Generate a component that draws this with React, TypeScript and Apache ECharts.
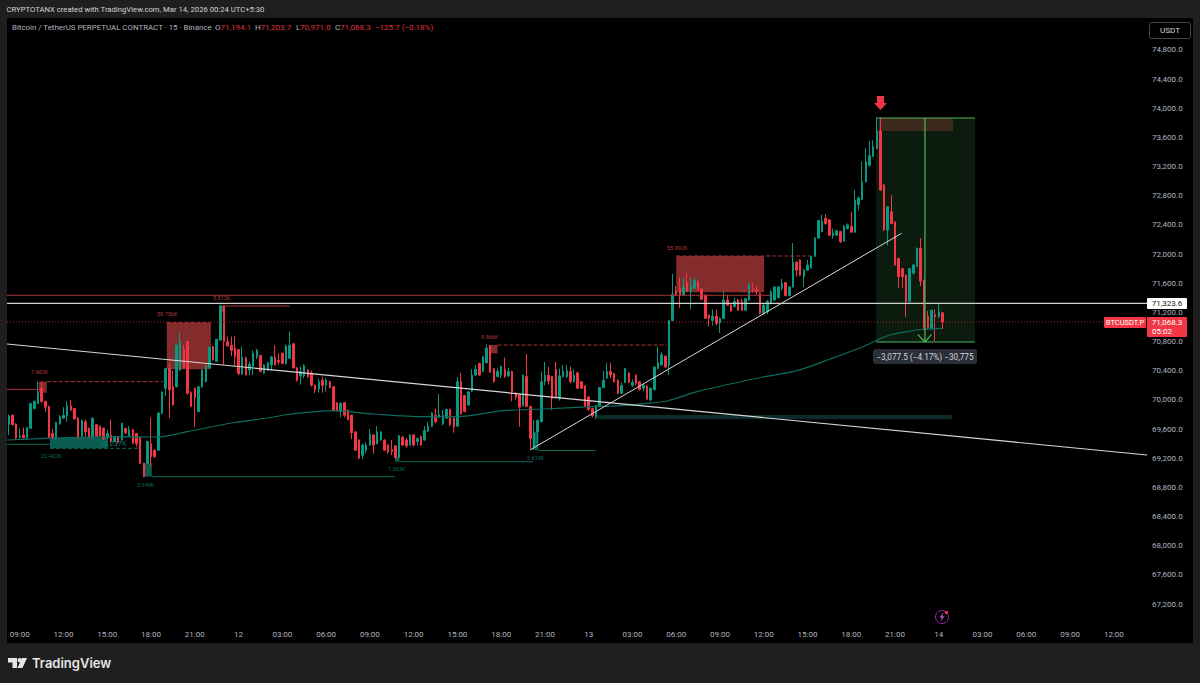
import React, { useEffect, useRef } from "react";
import * as echarts from "echarts";

const tickLabels = ["09:00","12:00","15:00","18:00","21:00","12","03:00","06:00","09:00","12:00","15:00","18:00","21:00","13","03:00","06:00","09:00","12:00","15:00","18:00","21:00","14","03:00","06:00","09:00","12:00"];
const slotCount = 313;
const firstTick = 3;
const ticksEvery = 12;

// [open, close, low, high]
const ohlc: number[][] = [
[69660,69780,69520,69800],[69790,69660,69650,69800],[69670,69480,69460,69680],[69490,69510,69470,69610],[69520,69480,69470,69620],
[69480,69620,69470,69630],[69610,69950,69600,69960],[69880,69980,69880,69990],[69950,70100,69950,70250],[70160,69980,69960,70250],
[69980,69900,69840,69990],[69910,69490,69480,69920],[69540,69480,69470,69600],[69480,69690,69470,69700],[69670,69770,69660,69790],
[69750,69790,69740,69900],[69780,69920,69700,69980],[69920,69860,69850,70000],[69880,69740,69730,69890],[69750,69480,69460,69760],
[69500,69720,69490,69730],[69700,69560,69480,69730],[69610,69480,69470,69620],[69480,69750,69470,69760],[69660,69500,69490,69670],
[69640,69500,69490,69650],[69610,69470,69450,69620],[69480,69540,69470,69590],[69520,69430,69400,69730],[69430,69490,69420,69500],
[69490,69420,69400,69500],[69450,69680,69440,69690],[69610,69550,69530,69620],[69510,69590,69500,69640],[69590,69410,69390,69600],
[69540,69400,69360,69550],[69480,69130,69120,69490],[69130,68950,68940,69140],[69130,69430,69120,69440],[69400,69220,69080,69760],
[69310,69220,69210,69320],[69310,69820,69300,69830],[69820,70110,69800,70120],[70160,70430,70050,70440],[70430,70140,69750,70510],
[70180,69930,69920,70400],[70180,70750,70170,70760],[70410,70800,70400,70930],[70690,70440,70430,70760],[70800,70090,70070,70810],
[70100,69910,69900,70120],[70160,70030,69630,70170],[69840,70180,69830,70190],[70180,70410,70170,70420],[70250,70460,70240,70480],
[70440,70720,70430,70730],[70730,70550,70540,70740],[70530,70830,70520,70840],[70820,71290,70810,71300],[71290,70800,70480,71300],
[70800,70740,70730,70870],[70750,70680,70600,70870],[70710,70590,70460,70870],[70690,70360,70340,70700],[70360,70590,70340,70730],
[70580,70340,70340,70590],[70410,70490,70340,70530],[70460,70640,70340,70680],[70590,70680,70560,70700],[70610,70390,70380,70620],
[70370,70480,70360,70490],[70410,70510,70400,70520],[70480,70590,70400,70600],[70580,70480,70470,70750],[70540,70520,70480,70640],
[70640,70500,70490,70650],[70500,70740,70480,70760],[70570,70750,70560,70940],[70770,70440,70430,70780],[70440,70270,70250,70450],
[70330,70390,70210,70460],[70330,70470,70300,70490],[70410,70320,70300,70420],[70370,70200,70180,70400],[70200,70140,70090,70210],
[70150,70250,70100,70290],[70270,70200,70100,70320],[70200,70270,70110,70300],[70250,70170,70160,70260],[70180,69850,69850,70190],
[69960,69850,69840,69970],[69840,69950,69760,69970],[69960,69790,69760,69970],[69860,69730,69720,69870],[69790,69550,69460,69800],
[69560,69310,69300,69570],[69450,69200,69190,69460],[69240,69380,69190,69400],[69310,69380,69270,69420],[69380,69530,69370,69600],
[69520,69380,69260,69530],[69400,69560,69390,69640],[69450,69560,69440,69570],[69450,69310,69300,69460],[69380,69290,69260,69390],
[69320,69290,69240,69450],[69370,69210,69190,69380],[69210,69510,69200,69520],[69490,69380,69370,69500],[69450,69370,69340,69470],
[69380,69520,69370,69530],[69520,69380,69360,69530],[69430,69470,69380,69490],[69500,69380,69370,69510],[69450,69580,69440,69640],
[69570,69640,69560,69700],[69640,69820,69630,69830],[69790,69700,69680,69880],[69760,69800,69750,70080],[69670,69790,69650,69860],
[69750,69870,69740,69880],[69870,69660,69640,69880],[69750,69630,69550,69760],[69640,70250,69630,70310],[70250,69810,69800,70370],
[70060,69840,69830,70070],[69930,70110,69920,70120],[70120,70340,70110,70420],[70340,70420,70330,70480],[70500,70340,70330,70510],
[70390,70590,70380,70600],[70510,70710,70500,70760],[70740,70380,70370,70750],[70430,70250,70230,70440],[70320,70390,70310,70430],
[70340,70460,70300,70470],[70420,70320,70300,70580],[70330,70390,70310,70440],[70390,70110,69980,70400],[70090,70040,70000,70110],
[70070,69900,69630,70080],[69920,70340,69910,70350],[70320,69910,69900,70630],[69910,69470,69330,69920],[69340,69540,69330,69730],
[69560,69720,69400,69730],[69700,70250,69690,70390],[70250,70340,70200,70520],[70340,70260,70210,70450],[70320,70020,69860,70330],
[70420,70040,70020,70520],[70020,70330,69990,70430],[70320,70390,70310,70480],[70320,70400,70300,70480],[70390,70250,70230,70460],
[70250,70340,70240,70420],[70370,70160,70150,70390],[70250,70160,70150,70260],[70190,69910,69900,70200],[70040,69870,69850,70050],
[69880,69780,69760,69890],[69770,69920,69740,69930],[69910,70170,69900,70180],[70170,70270,70160,70400],[70300,70390,70290,70510],
[70390,70340,70300,70510],[70360,70250,70240,70370],[70270,70090,70080,70280],[70090,70200,70080,70240],[70240,70430,70230,70440],
[70370,70240,70230,70380],[70200,70240,70180,70280],[70340,70230,70200,70350],[70250,70140,70130,70260],[70160,70200,70120,70230],
[70190,70010,70000,70200],[70000,70160,69980,70170],[70140,70450,70130,70460],[70430,70510,70420,70730],[70480,70620,70470,70650],
[70600,70450,70440,70610],[70480,71090,70340,71100],[71090,71450,71080,71730],[71490,71440,71430,71560],[71530,71440,71260,71680],
[71440,71550,71430,71680],[71600,71490,71480,71740],[71490,71560,71240,71680],[71530,71640,71520,71680],[71620,71510,71500,71640],
[71520,71380,71370,71530],[71440,71120,71110,71450],[71160,71120,71010,71170],[71090,71150,71020,71240],[71150,71050,71020,71240],
[71060,71120,70920,71130],[71120,71370,71110,71490],[71370,71300,71290,71440],[71300,71220,71210,71310],[71280,71350,71270,71400],
[71370,71230,71220,71390],[71345,71230,71220,71390],[71230,71390,71220,71400],[71370,71580,71360,71610],[71530,71510,71470,71600],
[71510,71490,71440,71560],[71460,71190,71170,71470],[71190,71300,71170,71320],[71210,71350,71180,71370],[71330,71480,71310,71510],
[71370,71550,71360,71560],[71400,71550,71390,71560],[71530,71600,71500,71660],[71610,71430,71420,71620],[71430,71550,71420,71560],
[71550,71890,71540,72150],[71890,71780,71690,71900],[71920,71710,71700,71930],[71690,71780,71550,71790],[71780,71850,71770,71920],
[71810,71970,71800,71980],[71970,72220,71960,72230],[72220,72460,72210,72470],[72310,72450,72300,72540],[72490,72420,72400,72550],
[72470,72260,72250,72480],[72250,72290,72210,72350],[72260,72320,72250,72330],[72310,72170,72150,72320],[72180,72380,72170,72400],
[72350,72400,72340,72420],[72380,72300,72290,72580],[72300,72740,72290,72880],[72680,72770,72600,72790],[72750,72990,72740,73270],
[72990,73270,72980,73450],[73220,73350,73200,73550],[73340,73470,73330,73560],[73450,73690,73440,73860],[73690,72880,72870,73870],
[72950,72330,72320,72960],[72330,72650,72120,72660],[72580,72420,72410,72810],[72440,71850,71840,72450],[71940,71690,71530,71950],
[71800,71690,71540,71810],[71710,71350,71140,71720],[71350,71800,71340,71810],[71740,71850,71720,71870],[71830,72080,71820,72090],
[72080,71630,71560,72220],[71640,70960,70960,71650],[71150,70990,70960,71220],[70980,71230,70960,71240],[71170,71140,70810,71240],
[71140,71210,71120,71330],[71194.1,71068.3,70971,71203.7],
];

const emaLine = [[-0.5,69450],[32.4,69495],[40.6,69491],[48.9,69564],[61.5,69687],[70.8,69752],[77.1,69803],[88.9,69852],[99.9,69807],[113.6,69770],[122.9,69770],[135.5,69852],[146.5,69875],[159.4,69907],[165.7,69916],[175,69953],[180.5,69985],[188.7,70113],[197.8,70218],[206.8,70314],[216.1,70401],[225.2,70561],[234.2,70730],[238.1,70822],[241.6,70890],[246.3,70936],[250.7,70969],[255.9,70982]];

const lastPrice = 71068.3;
const levelPrice = 71323.6;
const trendDown = [[-0.5,70767],[312.1,69244]];
const trendUp = [[142.9,69313],[244.8,72285]];
const upperRedLevel = [[-0.5,71435],[208.8,71435]];
const lastPriceLine = [[-0.5,lastPrice],[300.5,lastPrice]];
const levelLine = [[-0.5,levelPrice],[312.1,levelPrice]];
const redSolids = [
  [[-0.5,70145],[8.2,70145]],
  [[59.3,71288],[77.1,71288]],
];
const redDashes = [
  [[10.4,70250],[42.3,70250]],
  [[134,70753],[180.4,70753]],
  [[183,71974],[219.7,71974]],
  [[43.3,71059],[55.4,71059]],
];
const tealSolids = [
  [[-0.5,69391],[11.3,69391]],
  [[39.2,68947],[105.9,68947]],
  [[107.1,69152],[143.7,69152]],
  [[145,69305],[160.9,69305]],
];
const tealDashes = [[[11.3,69336],[35.4,69336]]];

const redBoxes = [
  [[43.3,71059],[55.4,70420]],
  [[183,71974],[207.1,71476]],
  [[8.2,70250],[10.4,70099]],
  [[58.1,71288],[59.3,71210]],
  [[131.9,70753],[134,70639]],
];
const tealBoxes = [
  [[11.3,69482],[27.2,69336]],
  [[37.2,69130],[39.2,68947]],
  [[105.9,69221],[107.1,69152]],
  [[143.6,69564],[145.2,69313]],
];
const bandBox = [[161,69793],[258.6,69734]];
const positionBox = [[237.8,73867],[264.9,70794]];
const entryBox = [[238.6,73867],[258.9,73689]];
const positionTop = [[237.8,73867],[264.9,73867]];
const positionBottom = [[237.8,70794],[264.9,70794]];
const positionStem = [[251.2,73867],[251.2,70794]];
const positionArrow = [[249.2,70900],[251.2,70794],[253,70900]];

const axisFont = "Roboto, sans-serif";
const tc = (x: number, y: number, text: string, fill: string, fontSize = 8, extra: any = {}) => ({
  type: "text", x, y, z: 100,
  style: { text, fill, fontSize, fontFamily: axisFont, textVerticalAlign: "middle", ...extra },
});

function buildOption() {
  const categories = Array.from({ length: slotCount }, (_, i) =>
    i >= firstTick && (i - firstTick) % ticksEvery === 0 ? tickLabels[(i - firstTick) / ticksEvery] ?? "" : ""
  );
  const seg = (data: number[][], color: string, width = 1, type: any = "solid", z = 5, extra: any = {}) => ({
    type: "line", xAxisIndex: 1, yAxisIndex: 0, data, symbol: "none", silent: true, z,
    lineStyle: { color, width, type }, ...extra,
  });
  const area = (boxes: number[][][], color: string, z = 1) => ({
    type: "line", xAxisIndex: 1, yAxisIndex: 0, data: [[-0.5, 66900]], symbol: "none", silent: true, z,
    lineStyle: { width: 0 },
    markArea: {
      silent: true,
      itemStyle: { color },
      data: boxes.map((b) => [{ coord: b[0] }, { coord: b[1] }]),
    },
  });
  const RED = "#a83438";
  const TEAL = "#0d6b5e";
  const GREEN = "#55b359";
  const hdr = 8;
  return {
    animation: false,
    backgroundColor: "#1f1f1f",
    grid: { left: 7, top: 20.8, width: 1141.5, height: 612.4, containLabel: false },
    xAxis: [
      {
        type: "category", data: categories, boundaryGap: true,
        axisLine: { show: false }, axisTick: { show: false }, splitLine: { show: false },
        axisLabel: {
          color: "#b2b5be", fontSize: 8, fontFamily: axisFont, margin: -3, hideOverlap: false,
          interval: (_i: number, v: string) => v !== "",
        },
      },
      { type: "value", min: -0.5, max: slotCount - 0.5, show: false },
    ],
    yAxis: {
      type: "value", position: "right", min: 66800, max: 75200, interval: 400, scale: true,
      axisLine: { show: false }, axisTick: { show: false }, splitLine: { show: false },
      axisLabel: {
        color: "#b2b5be", fontSize: 8, fontFamily: axisFont, margin: 3.5,
        formatter: (v: number) => (v <= 66800 || v >= 75200 ? "" : v.toLocaleString("en-US", { minimumFractionDigits: 1 })),
      },
    },
    graphic: [
      { type: "rect", z: -10, shape: { x: 7, y: 18, width: 1186, height: 625 }, style: { fill: "#000" } },
      { type: "group", z: 100, children: [
        tc(6.5, 9.5, "CRYPTOTANX created with TradingView.com, Mar 14, 2026 00:24 UTC+5:30", "#d1d4dc", 7.7),
        tc(12, 27, "Bitcoin / TetherUS PERPETUAL CONTRACT · 15 · Binance", "#b2b5be", 7.9),
        tc(215, 27, "O", "#b2b5be", hdr), tc(220.5, 27, "71,194.1", "#e0313e", hdr),
        tc(255, 27, "H", "#b2b5be", hdr), tc(260.5, 27, "71,203.7", "#e0313e", hdr),
        tc(296, 27, "L", "#b2b5be", hdr), tc(300, 27, "70,971.0", "#e0313e", hdr),
        tc(335, 27, "C", "#b2b5be", hdr), tc(340, 27, "71,068.3", "#e0313e", hdr),
        tc(375, 27, "−125.7 (−0.18%)", "#e0313e", hdr),
        { type: "rect", shape: { x: 1149.5, y: 22.5, width: 41, height: 16, r: 2 }, style: { fill: "#000", stroke: "#434651", lineWidth: 1 } },
        tc(1170, 30.5, "USDT", "#d1d4dc", 8, { textAlign: "center" }),
        { type: "rect", shape: { x: 1147, y: 298, width: 40, height: 11, r: 1 }, style: { fill: "#fff" } },
        tc(1167, 303.7, "71,323.6", "#131722", 8, { textAlign: "center" }),
        { type: "rect", shape: { x: 1147, y: 317, width: 40, height: 20, r: 1 }, style: { fill: "#f23645" } },
        tc(1167, 322.5, "71,068.3", "#fff", 8, { textAlign: "center" }),
        tc(1152, 331.5, "05:02", "#fff", 8),
        { type: "rect", shape: { x: 1104, y: 317, width: 42, height: 11, r: 1 }, style: { fill: "#f23645" } },
        tc(1125, 322.5, "BTCUSDT.P", "#fff", 7.5, { textAlign: "center" }),
        { type: "rect", shape: { x: 873, y: 349, width: 104, height: 15, r: 3 }, style: { fill: "#2a2e39" } },
        tc(925, 356.5, "−3,077.5 (−4.17%) −30,775", "#d1d4dc", 8.2, { textAlign: "center" }),
        tc(31, 372, "7.402K", "#b23a3f", 5.5), tc(157, 314, "50.756K", "#b23a3f", 5.5),
        tc(213, 298, "5.512K", "#b23a3f", 5.5), tc(481, 337, "9.566K", "#b23a3f", 5.5),
        tc(667, 247.5, "55.092K", "#b23a3f", 5.5), tc(740, 291, "41.376K", "#b23a3f", 5.5),
        tc(41, 456, "22.402K", "#0d6b5e", 5.5), tc(137, 484.5, "3.949K", "#0d6b5e", 5.5),
        tc(388, 469, "1.363K", "#0d6b5e", 5.5), tc(527, 458, "2.619K", "#0d6b5e", 5.5),
        tc(99, 443.5, "10.237K", "#0f7a6b", 7.5),
        { type: "polygon", shape: { points: [[877, 96], [884, 96], [884, 103], [887, 103], [880.5, 110], [874, 103], [877, 103]] }, style: { fill: "#f23645" } },
        { type: "circle", shape: { cx: 942, cy: 617, r: 6.5 }, style: { fill: "none", stroke: "#9c27b0", lineWidth: 1 } },
        { type: "polygon", shape: { points: [[943.5, 612.5], [939.5, 617.5], [941.7, 617.5], [940.5, 621.5], [944.5, 616.2], [942.3, 616.2]] }, style: { fill: "#b45cc8" } },
        { type: "circle", shape: { cx: 946.5, cy: 612.5, r: 1.6 }, style: { fill: "#f23645" } },
        { type: "polygon", shape: { points: [[8, 658], [17, 658], [17, 668], [12.5, 668], [12.5, 662.5], [8, 662.5]] }, style: { fill: "#e6e6e6" } },
        { type: "circle", shape: { cx: 19.7, cy: 660.2, r: 2.2 }, style: { fill: "#e6e6e6" } },
        { type: "polygon", shape: { points: [[22, 658], [27, 658], [22.5, 668], [17.5, 668]] }, style: { fill: "#e6e6e6" } },
        { type: "text", x: 32, y: 663, style: { text: "TradingView", fill: "#e6e6e6", fontSize: 13, fontWeight: 600, fontFamily: "Inter, sans-serif", textVerticalAlign: "middle" } },
      ] },
    ],
    series: [
      area([positionBox], "#0b1c0e", 0),
      area([entryBox], "#3b2a1c", 0.5),
      area([bandBox], "#0a2b28", 1),
      area(redBoxes, "#842c2c", 1),
      area(tealBoxes, "#0b5c50", 1),
      {
        type: "candlestick", xAxisIndex: 0, yAxisIndex: 0, data: ohlc, barWidth: 2, z: 3, silent: true,
        itemStyle: { color: "#089981", color0: "#f23645", borderColor: "#089981", borderColor0: "#f23645", borderWidth: 1 },
      },
      seg(emaLine, TEAL, 1.2, "solid", 4, { smooth: 0.3 }),
      seg(upperRedLevel, RED, 1),
      seg(lastPriceLine, "#b8222b", 1, [1, 2]),
      seg(levelLine, "#d0d0d0", 1.2),
      seg(trendDown, "#d8d8d8", 1.2),
      seg(trendUp, "#d8d8d8", 1),
      ...redSolids.map((d) => seg(d, RED, 1)),
      ...redDashes.map((d) => seg(d, RED, 1, "dashed")),
      ...tealSolids.map((d) => seg(d, TEAL, 1)),
      ...tealDashes.map((d) => seg(d, TEAL, 1, "dashed")),
      seg(positionTop, GREEN, 1.2),
      seg(positionBottom, GREEN, 1.2),
      seg(positionStem, GREEN, 1.2),
      seg(positionArrow, GREEN, 1.2),
    ],
  };
}

export default function App() {
  const ref = useRef<HTMLDivElement>(null);
  useEffect(() => {
    document.body.style.margin = "0";
    const chart = echarts.init(ref.current!, undefined, { renderer: "svg" });
    chart.setOption(buildOption() as any);
    return () => chart.dispose();
  }, []);
  return <div ref={ref} style={{ width: 1200, height: 683 }} />;
}
